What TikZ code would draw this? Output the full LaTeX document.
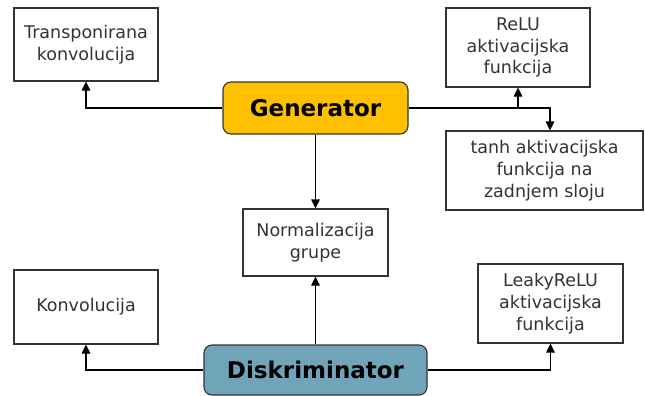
\documentclass[tikz,border=0pt]{standalone}
\usepackage{fontspec}
\setmainfont{DejaVu Sans}
\usetikzlibrary{arrows.meta}
\definecolor{txt}{HTML}{333333}
\definecolor{bord}{HTML}{333333}
\definecolor{gen}{HTML}{FFC000}
\definecolor{disk}{HTML}{70A4B8}
\begin{document}
\begin{tikzpicture}[x=1pt,y=-1pt,
  box/.style={draw=bord,line width=1.1pt,fill=white,align=center,inner sep=0pt,
    text=txt,font=\fontsize{17.5}{21.7}\selectfont},
  main/.style={draw=bord,line width=1.1pt,rounded corners=8pt,align=center,inner sep=0pt,
    text=black,font=\fontsize{23}{27}\selectfont\bfseries},
  conn/.style={line width=1.1pt,draw=black,-{Triangle[width=8.5pt,length=9pt]}}]
\useasboundingbox (0,0) rectangle (645,396);
\node[box,minimum width=144pt,minimum height=73pt] (tk) at (86,44.5) {Transponirana\\konvolucija};
\node[box,minimum width=144pt,minimum height=79pt] (relu) at (518,47.5) {ReLU\\aktivacijska\\funkcija};
\node[box,minimum width=197pt,minimum height=79pt] (tanh) at (544.5,170.5) {tanh aktivacijska\\funkcija na\\zadnjem sloju};
\node[main,fill=gen,minimum width=185pt,minimum height=52pt] (g) at (315.5,108) {Generator};
\node[box,minimum width=145pt,minimum height=67pt] (norm) at (315.5,242.5) {Normalizacija\\grupe};
\node[box,minimum width=144pt,minimum height=74pt] (konv) at (86,307) {Konvolucija};
\node[box,minimum width=145pt,minimum height=79pt] (leaky) at (550.5,303.5) {LeakyReLU\\aktivacijska\\funkcija};
\node[main,fill=disk,minimum width=223pt,minimum height=50pt] (d) at (315.5,370) {Diskriminator};
\draw[conn] (g.west) -| (tk.south);
\draw[conn] (g.east) -| (relu.south);
\coordinate (gr) at (relu.south |- g.east);
\draw[conn] (gr) -| (tanh.north -| 550,0);
\draw[conn] (g.south) -- (norm.north);
\draw[conn] (d.north) -- (norm.south);
\draw[conn] (d.west) -| (konv.south);
\draw[conn] (d.east) -| (leaky.south);
\end{tikzpicture}
\end{document}
